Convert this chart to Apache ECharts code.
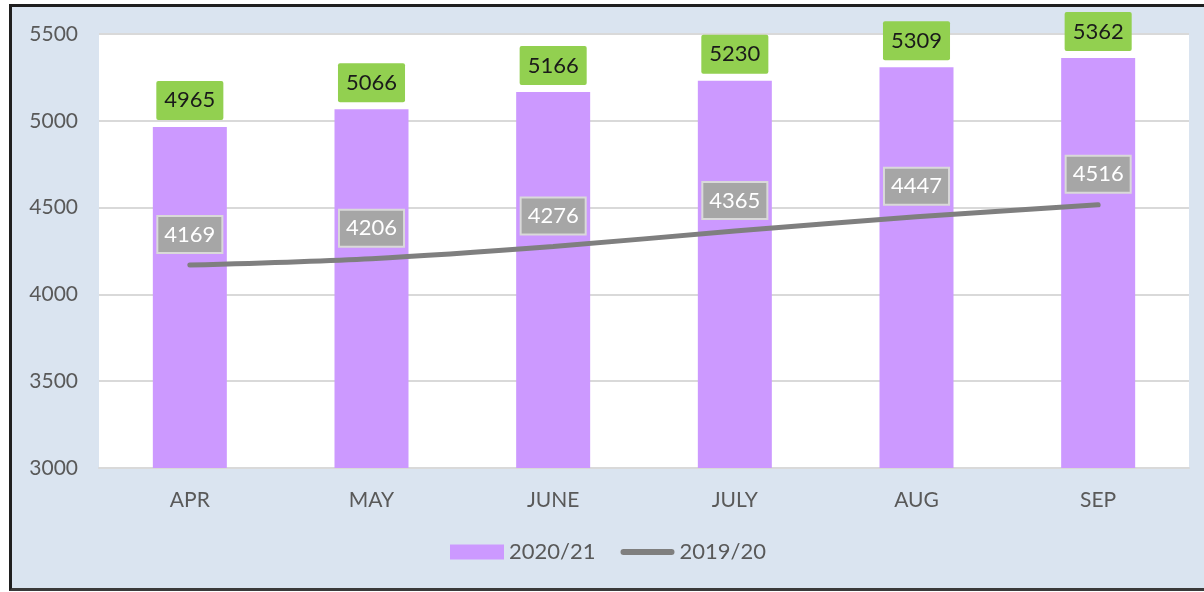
<!DOCTYPE html>
<html>
<head>
<meta charset="utf-8">
<script src="https://cdn.jsdelivr.net/npm/echarts@6/dist/echarts.min.js"></script>
<style>
  html, body { margin: 0; padding: 0; background: #ffffff; }
  #wrap {
    position: absolute; left: 9px; top: 4px;
    width: 1192px; height: 581px;
    border-left: 3px solid #1f1f1f;
    border-top: 3px solid #1f1f1f;
    border-bottom: 3px solid #3a3a3a;
    background: #dae4f0;
  }
  #main { width: 1192px; height: 581px; }
</style>
</head>
<body>
<div id="wrap"><div id="main"></div></div>
<script>
// months on the x axis
var months = ['APR', 'MAY', 'JUNE', 'JULY', 'AUG', 'SEP'];
// current year (bars)
var thisYear = [4965, 5066, 5166, 5230, 5309, 5362];
// previous year (line)
var lastYear = [4169, 4206, 4276, 4365, 4447, 4516];

var font = 'Lato';
var chart = echarts.init(document.getElementById('main'));

var option = {
  backgroundColor: '#dae4f0',
  textStyle: { fontFamily: font },
  grid: {
    left: 87, right: 15, top: 27, bottom: 120,
    show: true, backgroundColor: '#ffffff', borderWidth: 0
  },
  legend: {
    bottom: 20,
    itemWidth: 54,
    itemHeight: 15,
    itemGap: 25,
    textStyle: { fontSize: 22, color: '#595959', fontFamily: font },
    data: [
      { name: '2020/21', icon: 'rect' },
      // thick rounded line as legend mark
      { name: '2019/20', icon: 'path://M3,0 H51 A3,3 0 0 1 51,6 H3 A3,3 0 0 1 3,0 Z' }
    ]
  },
  xAxis: {
    type: 'category',
    data: months,
    axisLine: { lineStyle: { color: '#d9d9d9', width: 2 } },
    axisTick: { show: false },
    axisLabel: { color: '#595959', fontSize: 21, margin: 22, fontFamily: font }
  },
  yAxis: {
    type: 'value',
    min: 3000,
    max: 5500,
    interval: 500,
    splitLine: { lineStyle: { color: '#d9d9d9', width: 2 } },
    axisLabel: {
      color: '#595959', fontSize: 21, margin: 21, fontFamily: font,
      formatter: function (v) { return String(v); }
    }
  },
  series: [
    {
      name: '2020/21',
      type: 'bar',
      data: thisYear,
      barWidth: 74,
      itemStyle: { color: '#cc99ff' },
      label: {
        show: true,
        position: 'top',
        distance: 7,
        color: '#1a1a1a',
        fontSize: 22,
        lineHeight: 23,
        fontFamily: font,
        backgroundColor: '#92d050',
        padding: [8, 8, 8, 8],
        borderRadius: 2
      }
    },
    {
      name: '2019/20',
      type: 'line',
      data: lastYear,
      smooth: 0.3,
      symbol: 'circle',
      symbolSize: 0,
      lineStyle: { color: '#7f7f7f', width: 5, cap: 'round' },
      itemStyle: { color: '#7f7f7f' },
      label: {
        show: true,
        position: 'top',
        distance: 13,
        color: '#ffffff',
        fontSize: 22,
        lineHeight: 23,
        fontFamily: font,
        backgroundColor: '#a6a6a6',
        borderColor: '#d9d9d9',
        borderWidth: 2,
        padding: [6, 6, 6, 6]
      }
    }
  ]
};

chart.setOption(option);
</script>
</body>
</html>
